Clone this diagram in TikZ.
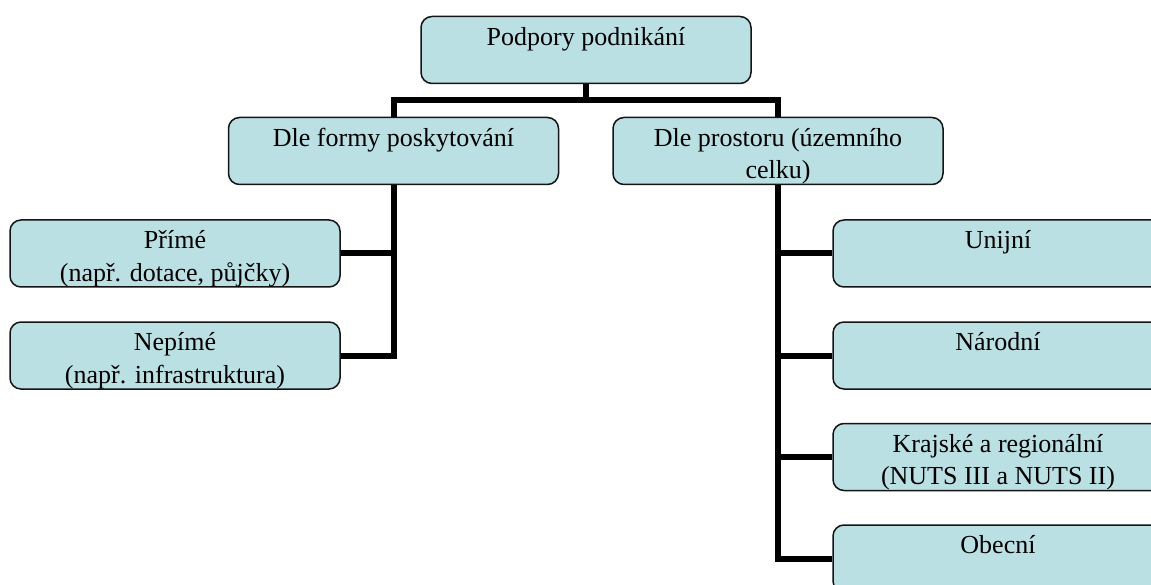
\documentclass[tikz,border=0pt]{standalone}
\usepackage{fontspec}
\setmainfont{Liberation Serif}
\definecolor{boxfill}{RGB}{187,224,227}
\definecolor{boxline}{RGB}{20,20,20}
\begin{document}
\begin{tikzpicture}[x=1pt,y=-1pt,
  box/.style={draw=boxline, line width=1.5pt, fill=boxfill, rounded corners=11pt,
    minimum width=330pt, minimum height=67pt, inner sep=0pt},
  lbl/.style={anchor=north, inner sep=0pt, align=center, font=\fontsize{26}{32.5}\selectfont},
  conn/.style={line width=6pt, line join=miter, draw=black}]
\useasboundingbox (0,0) rectangle (1151,585);
\clip (0,0) rectangle (1151,585);
% boxes
\node[box] (top) at (586,50) {};
\node[box] (lm) at (393.5,151) {};
\node[box] (rm) at (778,151) {};
\node[box] (prime) at (175,253.5) {};
\node[box] (nep) at (175,355.5) {};
\node[box] (un) at (998,253.5) {};
\node[box] (nar) at (998,355.5) {};
\node[box] (kr) at (998,457) {};
\node[box] (ob) at (998,558.5) {};
% connectors
\coordinate (bar) at (586,100);
\draw[conn] (top.south) -- (bar);
\draw[conn] (lm.north) |- (bar) -| (rm.north);
\draw[conn] (lm.south) |- (nep.east);
\draw[conn] (prime.east) -- (prime.east -| lm.south);
\draw[conn] (rm.south) |- (ob.west);
\draw[conn] (un.west) -- (un.west -| rm.south);
\draw[conn] (nar.west) -- (nar.west -| rm.south);
\draw[conn] (kr.west) -- (kr.west -| rm.south);
% labels
\node[lbl] (topt) at ([yshift=-6.6pt]top.north) {\strut Podpory podnikání};
\node[lbl] (lmt) at ([yshift=-6.6pt]lm.north) {\strut Dle formy poskytování};
\node[lbl] (rmt) at ([yshift=-6.6pt]rm.north) {\strut Dle prostoru (územního\\\strut celku)};
\node[lbl] (primet) at ([yshift=-6.6pt]prime.north) {\strut Přímé\\\strut (např. dotace, půjčky)};
\node[lbl] (nept) at ([yshift=-6.6pt]nep.north) {\strut Nepímé\\\strut (např. infrastruktura)};
\node[lbl] (unt) at ([yshift=-6.6pt]un.north) {\strut Unijní};
\node[lbl] (nart) at ([yshift=-6.6pt]nar.north) {\strut Národní};
\node[lbl] (krt) at ([yshift=-6.6pt]kr.north) {\strut Krajské a regionální\\\strut (NUTS III a NUTS II)};
\node[lbl] (obt) at ([yshift=-6.6pt]ob.north) {\strut Obecní};
\end{tikzpicture}
\end{document}
